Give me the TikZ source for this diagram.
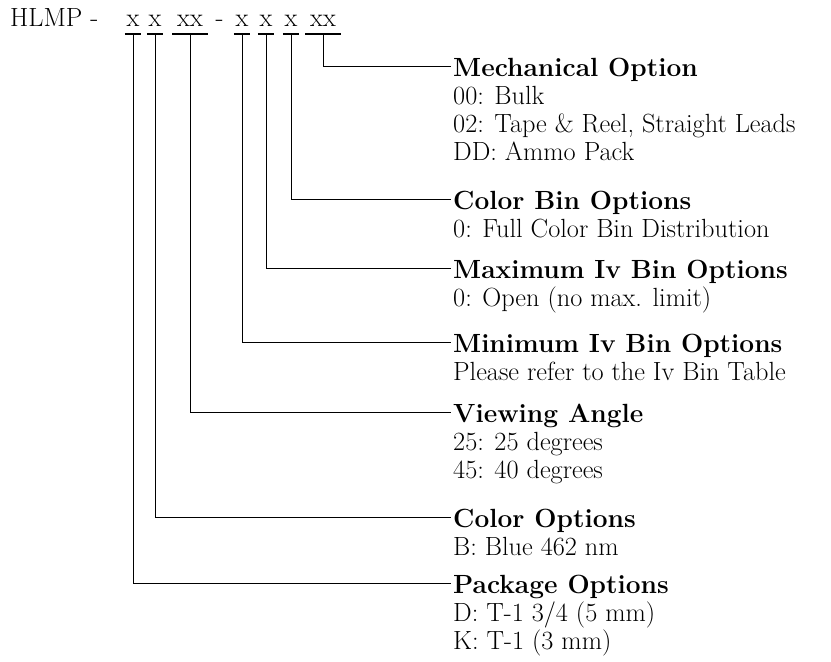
\documentclass[tikz,border=0pt]{standalone}
\usepackage{fontspec}
\usetikzlibrary{positioning}

\begin{document}
\begin{tikzpicture}[x=1pt, y=-1pt]
        \fontsize{26.3}{28}\selectfont
          \tikzset{
              mycode/.style={inner xsep=0pt, inner ysep=7pt, text depth=0pt, minimum width=16pt, anchor=base},
              mywide/.style={mycode, minimum width=35pt},
              myunder/.style={line width=2.5pt},
              myline/.style={line width=1pt},
              mylabel/.style={inner sep=2pt, anchor=base west}
          }
          \useasboundingbox (0,0) rectangle (831,662);
          \node[inner sep=2pt, anchor=base west] (hlmp) at (8,26.7) {HLMP -};
          \node[mycode] (pkg-code) at (133,26.7) {x};
          \node[mycode] (color-code) at (155,26.7) {x};
          \node[mywide] (angle-code) at (190,26.7) {xx};
          \node[anchor=base] (dash) at (219.5,26.7) {-};
          \node[mycode] (miniv-code) at (242,26.7) {x};
          \node[mycode] (maxiv-code) at (266,26.7) {x};
          \node[mycode] (bin-code) at (291,26.7) {x};
          \node[mywide] (mech-code) at (323,26.7) {xx};

          \node[mylabel] (mech) at (451,76) {\begin{tabular}[t]{@{}l@{}}\textbf{Mechanical Option}\\ 00: Bulk\\ 02: Tape \& Reel, Straight Leads\\ DD: Ammo Pack\end{tabular}};
          \node[mylabel] (bin) at (451,209) {\begin{tabular}[t]{@{}l@{}}\textbf{Color Bin Options}\\ 0: Full Color Bin Distribution\end{tabular}};
          \node[mylabel] (maxiv) at (451,278) {\begin{tabular}[t]{@{}l@{}}\textbf{Maximum Iv Bin Options}\\ 0: Open (no max. limit)\end{tabular}};
          \node[mylabel] (miniv) at (451,352) {\begin{tabular}[t]{@{}l@{}}\textbf{Minimum Iv Bin Options}\\ Please refer to the Iv Bin Table\end{tabular}};
          \node[mylabel] (angle) at (451,422) {\begin{tabular}[t]{@{}l@{}}\textbf{Viewing Angle}\\ 25: 25 degrees\\ 45: 40 degrees\end{tabular}};
          \node[mylabel] (color) at (451,527) {\begin{tabular}[t]{@{}l@{}}\textbf{Color Options}\\ B: Blue 462 nm\end{tabular}};
          \node[mylabel] (pkg) at (451,593) {\begin{tabular}[t]{@{}l@{}}\textbf{Package Options}\\ D: T-1 3/4 (5 mm)\\ K: T-1 (3 mm)\end{tabular}};

          \draw[myunder] (pkg-code.south west) -- (pkg-code.south east);
          \draw[myunder] (color-code.south west) -- (color-code.south east);
          \draw[myunder] (angle-code.south west) -- (angle-code.south east);
          \draw[myunder] (miniv-code.south west) -- (miniv-code.south east);
          \draw[myunder] (maxiv-code.south west) -- (maxiv-code.south east);
          \draw[myunder] (bin-code.south west) -- (bin-code.south east);
          \draw[myunder] (mech-code.south west) -- (mech-code.south east);

          \draw[myline] (mech-code.south) |- ([yshift=9.5pt]mech.base west);
          \draw[myline] (bin-code.south) |- ([yshift=9.5pt]bin.base west);
          \draw[myline] (maxiv-code.south) |- ([yshift=9.5pt]maxiv.base west);
          \draw[myline] (miniv-code.south) |- ([yshift=9.5pt]miniv.base west);
          \draw[myline] (angle-code.south) |- ([yshift=9.5pt]angle.base west);
          \draw[myline] (color-code.south) |- ([yshift=9.5pt]color.base west);
          \draw[myline] (pkg-code.south) |- ([yshift=9.5pt]pkg.base west);
        \end{tikzpicture}
\end{document}
